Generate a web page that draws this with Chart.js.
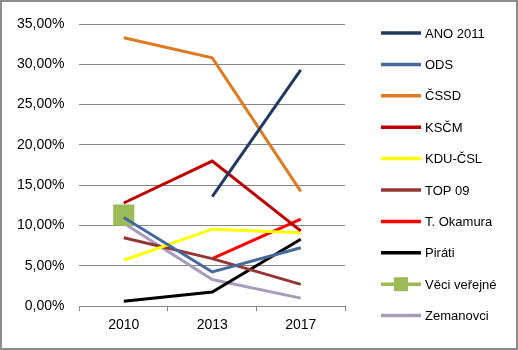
<!DOCTYPE html>
<html>
<head>
<meta charset="utf-8">
<script src="https://cdn.jsdelivr.net/npm/chart.js@4"></script>
<style>
    body { margin: 0; background: white; }
    #wrap { width: 518px; height: 350px; }
</style>
</head>
<body>
<div id="wrap"><canvas id="volby"></canvas></div>
<script>
const years = ['2010', '2013', '2017'];
const ano = [null, 13.6, 29.3];
const ods = [11.0, 4.25, 7.25];
const cssd = [33.3, 30.8, 14.25];
const kscm = [12.8, 18.0, 9.35];
const kdu = [5.7, 9.55, 9.1];
const top09 = [8.5, 5.9, 2.7];
const okamura = [null, 5.9, 10.8];
const pirati = [0.6, 1.75, 8.3];
const vv = [11.3, null, null];
const zemanovci = [10.3, 3.3, 1.0];

const gridGray = '#868686';

const outerBorder = {
    id: 'outerBorder',
    beforeDraw(chart) {
        const ctx = chart.ctx;
        ctx.save();
        ctx.fillStyle = 'white';
        ctx.fillRect(0, 0, chart.width, chart.height);
        ctx.strokeStyle = '#8c8c8c';
        ctx.lineWidth = 2;
        ctx.strokeRect(1, 1, chart.width - 2, chart.height - 2);
        ctx.restore();
    }
};

// Excel-like legend column on the right: line sample + label, one row per dataset
const sideLegend = {
    id: 'sideLegend',
    afterDraw(chart, args, opts) {
        const ctx = chart.ctx;
        ctx.save();
        ctx.font = opts.font;
        ctx.textBaseline = 'middle';
        chart.data.datasets.forEach((ds, i) => {
            const y = opts.top + i * opts.step;
            ctx.strokeStyle = ds.borderColor;
            ctx.lineWidth = 3.5;
            ctx.beginPath();
            ctx.moveTo(opts.left, y);
            ctx.lineTo(opts.left + opts.lineLen, y);
            ctx.stroke();
            if (ds.pointRadius > 0) {
                ctx.fillStyle = ds.borderColor;
                ctx.fillRect(opts.left + opts.lineLen / 2 - 7, y - 7, 14, 14);
            }
            ctx.fillStyle = 'black';
            ctx.fillText(ds.label, opts.left + opts.lineLen + 4, y + 1);
        });
        ctx.restore();
    }
};

function line(label, data, color) {
    return {
        label: label,
        data: data,
        borderColor: color,
        backgroundColor: color,
        borderWidth: 3,
        pointRadius: 0,
        pointHoverRadius: 0,
        tension: 0
    };
}

Chart.defaults.font.family = "'Liberation Sans', Arial, sans-serif";
Chart.defaults.color = 'black';

var ctx = document.getElementById('volby');
var myChart = new Chart(ctx, {
    type: 'line',
    data: {
        labels: years,
        datasets: [
            line('ANO 2011', ano, '#1F3864'),
            line('ODS', ods, '#44699A'),
            line('ČSSD', cssd, '#E07A22'),
            line('KSČM', kscm, '#C00000'),
            line('KDU-ČSL', kdu, '#FFFF00'),
            line('TOP 09', top09, '#953735'),
            line('T. Okamura', okamura, '#FF0000'),
            line('Piráti', pirati, '#000000'),
            Object.assign(line('Věci veřejné', vv, '#9BBB59'), {
                pointStyle: 'rect',
                pointRadius: 15,
                pointBackgroundColor: '#9BBB59',
                pointBorderColor: '#9BBB59',
                pointBorderWidth: 0
            }),
            line('Zemanovci', zemanovci, '#A99BBD')
        ]
    },
    options: {
        responsive: true,
        maintainAspectRatio: false,
        animation: false,
        layout: {
            padding: { left: 2, top: 24, bottom: 10, right: 173 }
        },
        scales: {
            x: {
                offset: true,
                grid: {
                    offset: true,
                    drawOnChartArea: false,
                    drawTicks: true,
                    tickLength: 5,
                    color: gridGray
                },
                border: { display: true, color: gridGray },
                ticks: { font: { size: 14 }, padding: 6 }
            },
            y: {
                min: 0,
                max: 35,
                ticks: {
                    stepSize: 5,
                    font: { size: 14 },
                    padding: 15,
                    callback: v => v.toFixed(2).replace('.', ',') + '%'
                },
                grid: { color: gridGray, drawTicks: false },
                border: { display: false }
            }
        },
        plugins: {
            legend: { display: false },
            tooltip: { enabled: false },
            sideLegend: {
                left: 381,
                lineLen: 40,
                top: 33,
                step: 31.4,
                font: "13px 'Liberation Sans', Arial, sans-serif"
            }
        }
    },
    plugins: [outerBorder, sideLegend]
});
</script>
</body>
</html>
